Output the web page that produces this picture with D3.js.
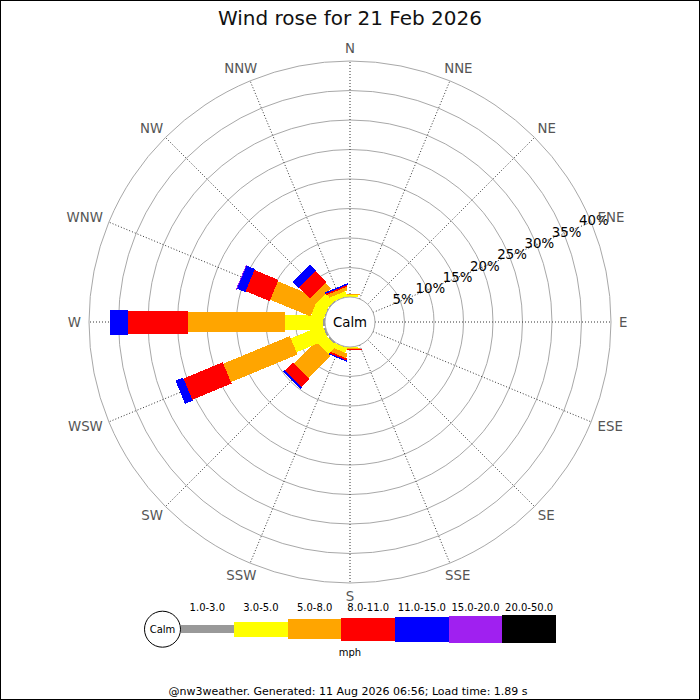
<!DOCTYPE html>
<html>
<head>
<meta charset="utf-8">
<script src="https://cdn.jsdelivr.net/npm/d3@7"></script>
<style>
  html, body { margin: 0; padding: 0; background: #fff; }
  svg { display: block; font-family: "DejaVu Sans", sans-serif; }
</style>
</head>
<body>
<svg id="chart" width="700" height="700"></svg>
<script>
// ---------- data ----------
const title = "Wind rose for 21 Feb 2026";
const footer = "@nw3weather. Generated: 11 Aug 2026 06:56; Load time: 1.89 s";
const unitLabel = "mph";
const calmLabel = "Calm";
const directions = ["N","NNE","NE","ENE","E","ESE","SE","SSE","S","SSW","SW","WSW","W","WNW","NW","NNW"];
const rangeLabels = ["1.0-3.0","3.0-5.0","5.0-8.0","8.0-11.0","11.0-15.0","15.0-20.0","20.0-50.0"];
const pctTicks = [5,10,15,20,25,30,35,40];
// percentage of time per direction, one array per speed range (order = directions)
const r1to3   = [0,    0,0,0,0,0,0,0, 0,    0.05, 0.2, 0.3,  0.3,  0.1,  0.1, 0.05];
const r3to5   = [0.3,  0,0,0,0,0,0,0, 0.25, 0.85, 2.0, 5.8,  6.4,  2.2,  1.9, 0.85];
const r5to8   = [0.25, 0,0,0,0,0,0,0, 0.05, 0.8,  5.3, 12.2, 16.5, 7.4,  1.4, 0.6];
const r8to11  = [0,    0,0,0,0,0,0,0, 0.15, 0.3,  1.9, 7.2,  10.2, 4.4,  2.6, 0.25];
const r11to15 = [0,    0,0,0,0,0,0,0, 0,    0.2,  0.3, 1.4,  3.1,  1.5,  1.5, 0.25];
const r15to20 = [0,    0,0,0,0,0,0,0, 0,    0,    0,   0,    0,    0.15, 0,   0];
const r20to50 = [0,    0,0,0,0,0,0,0, 0,    0,    0,   0,    0,    0,    0,   0];
const series = [r1to3, r3to5, r5to8, r8to11, r11to15, r15to20, r20to50];

// ---------- styles ----------
const rangeColors = ["#999999","#ffff00","#ffa500","#ff0000","#0000ff","#a020f0","#000000"];
const legWidths   = [8, 15, 20, 23, 25, 27, 28];

// ---------- layout ----------
const cx = 350, cy = 322, calmR = 25, outerR = 261;
const svg = d3.select("#chart");

const table = directions.map((d, i) => {
  const row = { dir: d };
  rangeLabels.forEach((k, j) => row[k] = series[j][i]);
  return row;
});
const stacked = d3.stack().keys(rangeLabels)(table);

const rScale = d3.scaleLinear().domain([0, 40]).range([calmR, outerR]);
const aScale = d3.scalePoint().domain(directions).range([0, 337.5]);
const rad = a => a * Math.PI / 180;
const pt = (ang, r, off) => {
  const t = rad(ang);
  return [cx + r * Math.sin(t) + off * Math.cos(t), cy - r * Math.cos(t) + off * Math.sin(t)];
};

// frame
svg.append("rect").attr("x", 0.5).attr("y", 0.5).attr("width", 699).attr("height", 699)
  .attr("fill", "none").attr("stroke", "#000").attr("stroke-width", 1);

// title
svg.append("text").attr("x", 350).attr("y", 25).attr("text-anchor", "middle")
  .attr("font-size", 20).attr("fill", "#111").text(title);

const g = svg.append("g");

// rings
g.selectAll("circle.ring").data(pctTicks).join("circle").attr("class", "ring")
  .attr("cx", cx).attr("cy", cy).attr("r", d => rScale(d))
  .attr("fill", "none").attr("stroke", "#a8a8a8").attr("stroke-width", 1);

// axes (dotted)
g.selectAll("line.axis").data(directions).join("line").attr("class", "axis")
  .attr("x1", d => pt(aScale(d), rScale(0), 0)[0]).attr("y1", d => pt(aScale(d), rScale(0), 0)[1])
  .attr("x2", d => pt(aScale(d), rScale(40), 0)[0]).attr("y2", d => pt(aScale(d), rScale(40), 0)[1])
  .attr("stroke", "#333").attr("stroke-width", 1).attr("stroke-dasharray", "1,2");

// legs
const legG = svg.append("g").attr("shape-rendering", "crispEdges");
directions.forEach((d, i) => {
  const ang = aScale(d);
  stacked.forEach((layer, j) => {
    const [v0, v1] = layer[i];
    if (v1 - v0 <= 0) return;
    const h = legWidths[j] / 2;
    const r0 = rScale(v0), r1 = rScale(v1);
    const pts = [pt(ang, r0, -h), pt(ang, r1, -h), pt(ang, r1, h), pt(ang, r0, h)];
    legG.append("path").attr("d", d3.line()(pts) + "Z").attr("fill", rangeColors[j]);
  });
});

// calm circle
svg.append("circle").attr("cx", cx).attr("cy", cy).attr("r", calmR)
  .attr("fill", "#fff").attr("stroke", "#a8a8a8").attr("stroke-width", 1);
svg.append("text").attr("x", cx).attr("y", cy).attr("text-anchor", "middle")
  .attr("dominant-baseline", "central").attr("font-size", 13.33).attr("fill", "#000").text(calmLabel);

// percentage labels along ENE-ish line
svg.selectAll("text.pct").data(pctTicks).join("text").attr("class", "pct")
  .attr("x", d => pt(67.5, rScale(d) + 3, 0)[0]).attr("y", d => pt(67.5, rScale(d) + 3, 0)[1])
  .attr("text-anchor", "middle").attr("dominant-baseline", "central")
  .attr("font-size", 13.33).attr("fill", "#000").text(d => d + "%");

// direction labels
directions.forEach(d => {
  const ang = aScale(d);
  const t = svg.append("text").attr("text-anchor", "middle").attr("dominant-baseline", "central")
    .attr("font-size", 13.33).attr("fill", "#555").text(d);
  const w = t.node().getComputedTextLength();
  const p = pt(ang, outerR + 8, 0);
  t.attr("x", p[0] + Math.sin(rad(ang)) * w / 2)
   .attr("y", p[1] - Math.cos(rad(ang)) * 5);
});

// legend
const lg = svg.append("g");
const lcx = 162.5, lcy = 629.2, lr = 18;
const segX = d3.scaleBand().domain(rangeLabels).range([lcx + lr, 556]);
lg.selectAll("rect").data(rangeLabels).join("rect")
  .attr("x", d => segX(d)).attr("width", segX.bandwidth())
  .attr("y", (d, j) => lcy - legWidths[j] / 2).attr("height", (d, j) => legWidths[j])
  .attr("fill", (d, j) => rangeColors[j]).attr("shape-rendering", "crispEdges");
lg.append("circle").attr("cx", lcx).attr("cy", lcy).attr("r", lr)
  .attr("fill", "#fff").attr("stroke", "#000").attr("stroke-width", 1);
lg.append("text").attr("x", lcx).attr("y", lcy).attr("text-anchor", "middle")
  .attr("dominant-baseline", "central").attr("font-size", 10).attr("fill", "#000").text(calmLabel);
lg.selectAll("text.rl").data(rangeLabels).join("text").attr("class", "rl")
  .attr("x", d => segX(d) + segX.bandwidth() / 2).attr("y", 611)
  .attr("text-anchor", "middle").attr("font-size", 10).attr("fill", "#000").text(d => d);
lg.append("text").attr("x", 350).attr("y", 656).attr("text-anchor", "middle")
  .attr("font-size", 10).attr("fill", "#000").text(unitLabel);

// footer
svg.append("text").attr("x", 348).attr("y", 695).attr("text-anchor", "middle")
  .attr("font-size", 11).attr("fill", "#000").text(footer);
</script>
</body>
</html>
